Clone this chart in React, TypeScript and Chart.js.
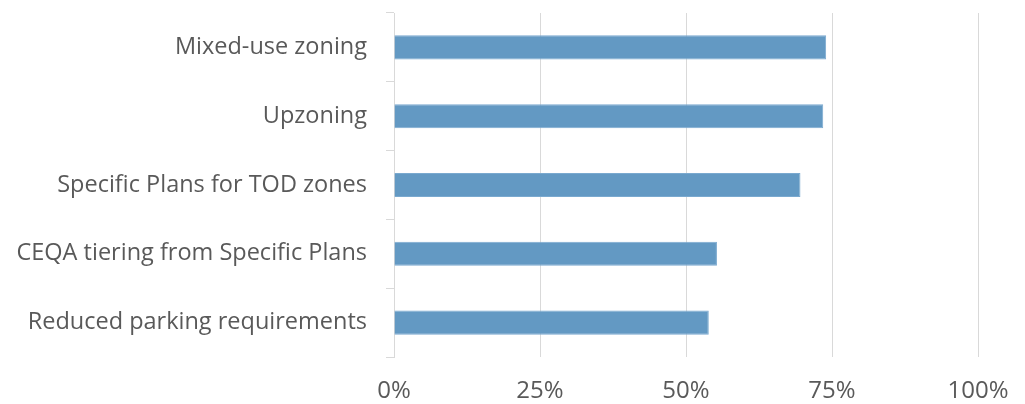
import React, { useEffect, useRef } from "react";
import { Chart, registerables } from "chart.js";

Chart.register(...registerables);

const categories = [
  "Mixed-use zoning",
  "Upzoning",
  "Specific Plans for TOD zones",
  "CEQA tiering from Specific Plans",
  "Reduced parking requirements",
];
const values = [74.0, 73.5, 69.6, 55.3, 53.9];
const xTicks = [0, 25, 50, 75, 100];

const FONT = "'Open Sans'";
const TEXT = "#595959";
const GRID = "#d9d9d9";

export default function App() {
  const ref = useRef<HTMLCanvasElement | null>(null);
  useEffect(() => {
    if (!ref.current) return;
    const chart = new Chart(ref.current, {
      type: "bar",
      data: {
        labels: categories,
        datasets: [
          {
            data: values,
            backgroundColor: "#6399c3",
            borderColor: "#7aa9cf",
            borderWidth: 1,
            barPercentage: 0.35,
            categoryPercentage: 1,
          },
        ],
      },
      options: {
        indexAxis: "y",
        animation: false,
        responsive: false,
        maintainAspectRatio: false,
        layout: { padding: { top: 13, right: 47, left: 0, bottom: 0 } },
        plugins: { legend: { display: false }, tooltip: { enabled: false } },
        scales: {
          x: {
            min: 0,
            max: 100,
            afterBuildTicks: (s: any) => {
              s.ticks = xTicks.map((v) => ({ value: v }));
            },
            afterFit: (s: any) => {
              s.height = 47;
              s.paddingLeft = 0;
              s.paddingRight = 0;
            },
            grid: { color: GRID, lineWidth: 1, drawTicks: false },
            border: { display: false },
            ticks: {
              color: TEXT,
              font: { family: FONT, size: 24 },
              padding: 20,
              callback: (v: any) => v + "%",
            },
          },
          y: {
            afterFit: (s: any) => {
              s.width = 394;
              s.paddingTop = 0;
              s.paddingBottom = 0;
            },
            grid: {
              color: GRID,
              drawOnChartArea: false,
              drawTicks: true,
              tickLength: 8,
              offset: true,
            },
            border: { display: true, color: GRID, width: 1 },
            ticks: {
              color: TEXT,
              font: { family: FONT, size: 23.5 },
              padding: 19,
            },
          },
        },
      },
    });
    return () => chart.destroy();
  }, []);
  return (
    <div style={{ position: "absolute", left: 0, top: 0, width: 1025, height: 404, background: "#fff" }}>
      <canvas ref={ref} width={1025} height={404} style={{ width: 1025, height: 404 }} />
    </div>
  );
}
